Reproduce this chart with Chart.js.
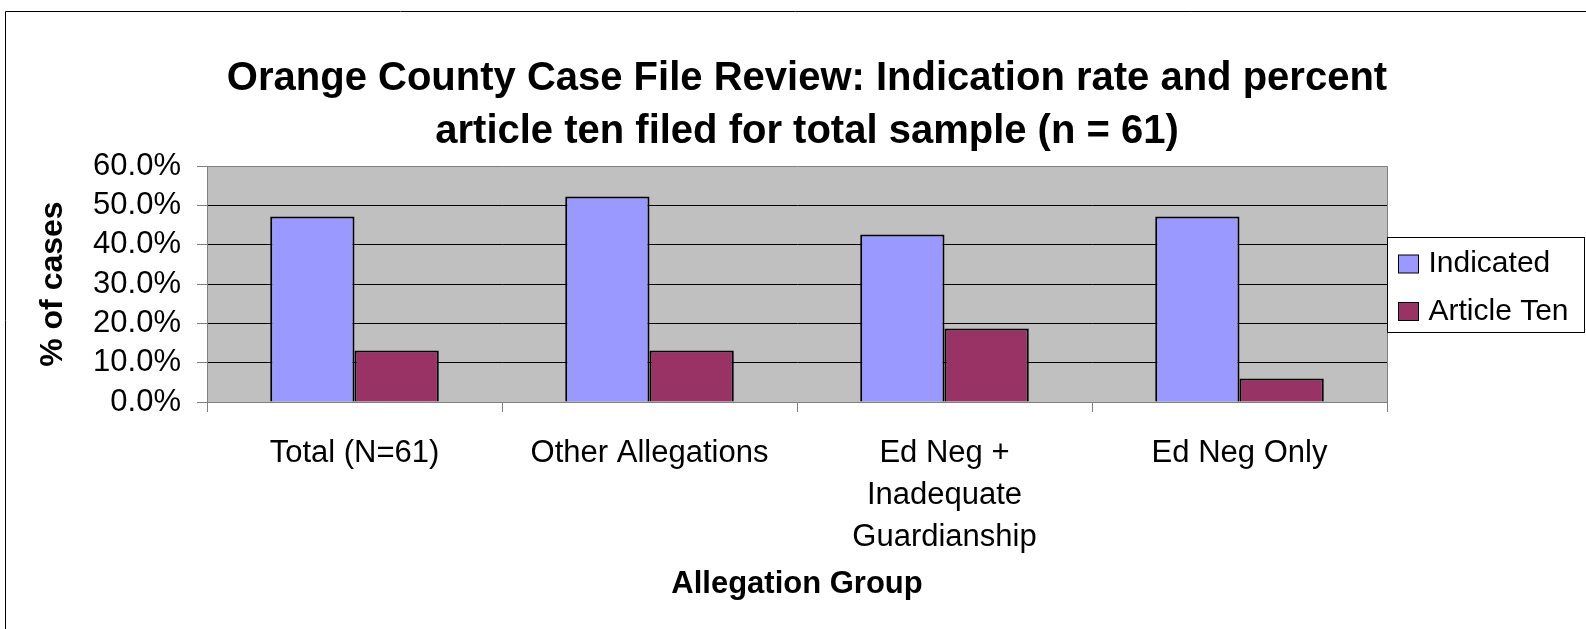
<!DOCTYPE html>
<html>
<head>
<meta charset="utf-8">
<title>Orange County Case File Review</title>
<script src="https://cdn.jsdelivr.net/npm/chart.js@4.4.1/dist/chart.umd.min.js"></script>
<style>
    html, body { margin: 0; padding: 0; background: #fff; overflow: hidden; }
    #wrap { position: relative; width: 1586px; height: 629px; }
</style>
</head>
<body>
<div id="wrap"><canvas id="caseChart"></canvas></div>
<script>
// chart data
const categories = ['Total (N=61)', 'Other Allegations', ['Ed Neg +', 'Inadequate', 'Guardianship'], 'Ed Neg Only'];
const indicated = [47.2, 52.3, 42.6, 47.2];
const articleTen = [13.1, 13.1, 18.7, 6.0];
const yTicks = [0, 10, 20, 30, 40, 50, 60];

const FONT = "'Liberation Sans', Arial, sans-serif";
const GRAY = '#808080';

// plot background, plot frame and outer frame
const framePlugin = {
    id: 'frame',
    beforeDraw(chart) {
        const { ctx, chartArea: a } = chart;
        ctx.save();
        ctx.fillStyle = '#C0C0C0';
        ctx.fillRect(a.left, a.top, a.right - a.left, a.bottom - a.top);
        ctx.restore();
    },
    afterDraw(chart) {
        const { ctx, chartArea: a } = chart;
        ctx.save();
        ctx.lineWidth = 1;
        ctx.strokeStyle = GRAY;
        ctx.beginPath();
        ctx.moveTo(Math.round(a.right) + 0.5, a.top);
        ctx.lineTo(Math.round(a.right) + 0.5, a.bottom);
        ctx.stroke();
        // outer chart border (only left and top are in the picture)
        ctx.strokeStyle = '#000';
        ctx.beginPath();
        ctx.moveTo(5.5, chart.height);
        ctx.lineTo(5.5, 11.5);
        ctx.lineTo(chart.width, 11.5);
        ctx.stroke();
        ctx.restore();
    }
};

// boxed legend to the right of the plot
const boxLegend = {
    id: 'boxLegend',
    afterDraw(chart) {
        const { ctx, chartArea: a } = chart;
        const left = Math.round(a.right) + 0.5;
        const top = 237.5, w = 197, h = 95;
        ctx.save();
        ctx.fillStyle = '#fff';
        ctx.fillRect(left, top, w, h);
        ctx.strokeStyle = '#000';
        ctx.lineWidth = 1;
        ctx.strokeRect(left, top, w, h);
        ctx.font = '30px ' + FONT;
        ctx.textBaseline = 'middle';
        ctx.textAlign = 'left';
        chart.data.datasets.forEach((ds, i) => {
            const cy = 264 + i * 47.5;
            ctx.fillStyle = ds.backgroundColor;
            ctx.fillRect(left + 11, cy - 9, 20, 18);
            ctx.strokeStyle = '#000';
            ctx.strokeRect(left + 11, cy - 9, 20, 18);
            ctx.fillStyle = '#000';
            ctx.fillText(ds.label, left + 41, cy);
        });
        ctx.restore();
    }
};

const ctx = document.getElementById('caseChart').getContext('2d');
const chart = new Chart(ctx, {
    type: 'bar',
    data: {
        labels: categories,
        datasets: [{
            label: 'Indicated',
            data: indicated,
            backgroundColor: '#9999FF',
            borderColor: '#000',
            borderWidth: 2
        }, {
            label: 'Article Ten',
            data: articleTen,
            backgroundColor: '#993366',
            borderColor: '#000',
            borderWidth: 2
        }]
    },
    options: {
        responsive: true,
        maintainAspectRatio: false,
        animation: false,
        layout: { padding: { left: 28, right: 0, top: 0, bottom: 0 } },
        datasets: {
            bar: { categoryPercentage: 2 / 3.5, barPercentage: 1 }
        },
        plugins: {
            legend: { display: false },
            tooltip: { enabled: false },
            title: {
                display: true,
                text: ['Orange County Case File Review: Indication rate and percent',
                       'article ten filed for total sample (n = 61)'],
                color: '#000',
                font: { family: FONT, size: 40, weight: 'bold', lineHeight: 1.34 },
                padding: { top: 52, bottom: 7 }
            }
        },
        scales: {
            x: {
                grid: {
                    offset: true,
                    drawOnChartArea: false,
                    drawTicks: true,
                    tickLength: 10,
                    color: GRAY
                },
                border: { color: GRAY, width: 1 },
                ticks: {
                    color: '#000',
                    font: { family: FONT, size: 31, lineHeight: 1.35 },
                    padding: 21,
                    maxRotation: 0,
                    autoSkip: false
                },
                title: {
                    display: true,
                    text: 'Allegation Group',
                    color: '#000',
                    font: { family: FONT, size: 31, weight: 'bold' },
                    padding: { top: 0, bottom: 26 }
                },
                afterFit(scale) { scale.height = 227; }
            },
            y: {
                min: 0,
                max: 60,
                afterBuildTicks(scale) {
                    scale.ticks = yTicks.map(v => ({ value: v }));
                },
                grid: {
                    color: c => (c.tick && (c.tick.value === 60 || c.tick.value === 0)) ? GRAY : '#000',
                    tickColor: GRAY,
                    tickLength: 10,
                    lineWidth: 1
                },
                border: { color: GRAY, width: 1 },
                ticks: {
                    color: '#000',
                    font: { family: FONT, size: 31 },
                    padding: 16,
                    autoSkip: false,
                    callback: v => v.toFixed(1) + '%'
                },
                title: {
                    display: true,
                    text: '% of cases',
                    color: '#000',
                    font: { family: FONT, size: 32, weight: 'bold' },
                    padding: { top: 6, bottom: 0 }
                },
                afterFit(scale) { scale.width = 207 - 28; }
            },
            // empty axis that keeps room for the legend box on the right
            side: {
                type: 'linear',
                position: 'right',
                display: true,
                grid: { display: false },
                border: { display: false },
                ticks: { display: false },
                afterFit(scale) { scale.width = 199; }
            }
        }
    },
    plugins: [framePlugin, boxLegend]
});
</script>
</body>
</html>
